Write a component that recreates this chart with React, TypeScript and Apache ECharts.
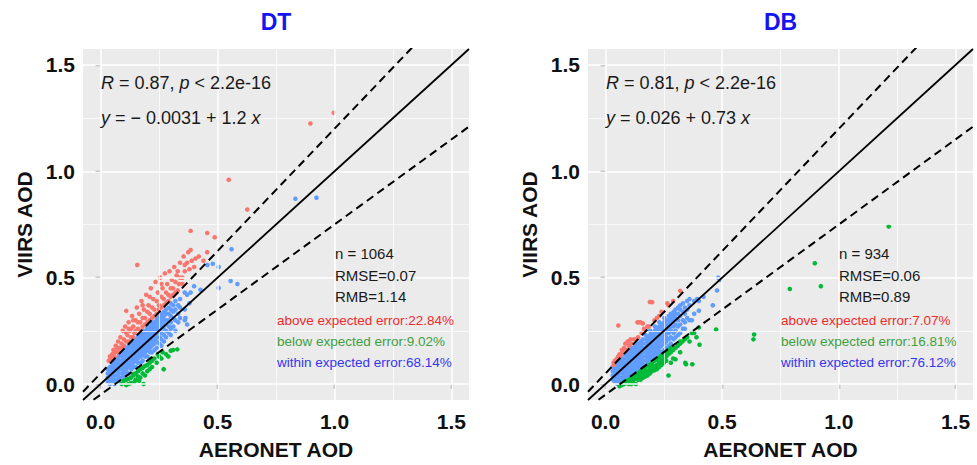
import React, { useEffect, useRef } from "react";
import * as echarts from "echarts";

// ---------- axis ----------
const AXIS_MIN = -0.075;
const AXIS_MAX = 1.575;
const majorTicks = [0, 0.5, 1.0, 1.5];
const minorTicks = [0.25, 0.75, 1.25];

// ---------- panel titles / annotations ----------
const panelTitles = ["DT", "DB"];
const statsR = ["{i|R} = 0.87, {i|p} < 2.2e-16", "{i|R} = 0.81, {i|p} < 2.2e-16"];
const statsFit = ["{i|y} = − 0.0031 + 1.2 {i|x}", "{i|y} = 0.026 + 0.73 {i|x}"];
const statsN = ["n = 1064", "n = 934"];
const statsRMSE = ["RMSE=0.07", "RMSE=0.06"];
const statsRMB = ["RMB=1.14", "RMB=0.89"];
const statsAbove = ["above expected error:22.84%", "above expected error:7.07%"];
const statsBelow = ["below expected error:9.02%", "below expected error:16.81%"];
const statsWithin = ["within expected error:68.14%", "within expected error:76.12%"];

// expected-error envelope (slope, intercept) and 1:1 line
const eeUpper = [1.15, 0.05];
const eeLower = [0.8, -0.05];
const oneToOne = [1, 0];

// ---------- DT data (AERONET, VIIRS) ----------
const dtWithinCols: [number, number[]][] = [
  [0.031, [0.01, 0.03, 0.05, 0.07]],
  [0.04, [0.0, 0.02, 0.04, 0.06, 0.08]],
  [0.052, [0.01, 0.03, 0.05, 0.07, 0.09, 0.1]],
  [0.06, [0.0, 0.02, 0.04, 0.06, 0.08, 0.1, 0.11]],
  [0.071, [0.02, 0.04, 0.06, 0.08, 0.1, 0.12]],
  [0.08, [0.01, 0.03, 0.05, 0.07, 0.09, 0.11, 0.13, 0.14]],
  [0.092, [0.03, 0.05, 0.07, 0.09, 0.11, 0.13, 0.15]],
  [0.1, [0.04, 0.06, 0.08, 0.1, 0.12, 0.14, 0.16]],
  [0.111, [0.05, 0.07, 0.09, 0.11, 0.13, 0.15, 0.17]],
  [0.12, [0.05, 0.08, 0.1, 0.12, 0.14, 0.16, 0.18]],
  [0.132, [0.07, 0.09, 0.11, 0.13, 0.15, 0.17, 0.19]],
  [0.14, [0.08, 0.1, 0.12, 0.14, 0.16, 0.18, 0.2]],
  [0.151, [0.08, 0.11, 0.13, 0.15, 0.17, 0.19, 0.21]],
  [0.16, [0.1, 0.12, 0.14, 0.16, 0.18, 0.2, 0.22, 0.23]],
  [0.172, [0.1, 0.13, 0.15, 0.17, 0.19, 0.21, 0.23]],
  [0.18, [0.11, 0.14, 0.16, 0.18, 0.2, 0.22, 0.24, 0.25]],
  [0.191, [0.13, 0.15, 0.17, 0.19, 0.21, 0.23, 0.25]],
  [0.2, [0.13, 0.16, 0.18, 0.2, 0.22, 0.24, 0.26, 0.27]],
  [0.212, [0.15, 0.17, 0.19, 0.21, 0.23, 0.25, 0.27]],
  [0.22, [0.15, 0.18, 0.2, 0.22, 0.24, 0.26, 0.28, 0.29]],
  [0.231, [0.16, 0.19, 0.21, 0.23, 0.25, 0.27, 0.29]],
  [0.24, [0.17, 0.2, 0.22, 0.24, 0.26, 0.28, 0.3, 0.31]],
  [0.252, [0.19, 0.22, 0.25, 0.27, 0.29, 0.31, 0.33]],
  [0.26, [0.18, 0.21, 0.24, 0.27, 0.29, 0.31, 0.33]],
  [0.271, [0.2, 0.23, 0.26, 0.28, 0.3, 0.32, 0.34]],
  [0.28, [0.22, 0.25, 0.28, 0.3, 0.33, 0.35]],
  [0.292, [0.24, 0.27, 0.3, 0.33, 0.36]],
  [0.3, [0.23, 0.26, 0.29, 0.32, 0.35, 0.38]],
  [0.311, [0.27, 0.31, 0.34, 0.37]],
  [0.32, [0.25, 0.3, 0.35, 0.39]],
  [0.332, [0.29, 0.33, 0.37]],
  [0.34, [0.31, 0.36, 0.4]],
  [0.36, [0.3, 0.35, 0.43]],
  [0.37, [0.28, 0.42]],
];
const dtWithinExtra: [number, number][] = [
  [0.363, 0.31], [0.385, 0.43], [0.38, 0.38], [0.4, 0.46], [0.427, 0.443],
  [0.457, 0.56], [0.48, 0.565], [0.505, 0.55], [0.505, 0.452], [0.556, 0.484],
  [0.585, 0.47], [0.56, 0.634], [0.833, 0.871], [0.923, 0.876],
];
const dtAbove: [number, number][] = [
  [0.035, 0.11], [0.04, 0.13], [0.045, 0.12], [0.05, 0.14], [0.055, 0.16], [0.06, 0.13],
  [0.065, 0.18], [0.07, 0.15], [0.075, 0.2], [0.08, 0.17], [0.085, 0.22], [0.09, 0.19],
  [0.095, 0.25], [0.1, 0.21], [0.105, 0.27], [0.11, 0.2], [0.11, 0.344], [0.115, 0.23],
  [0.12, 0.29], [0.125, 0.25], [0.13, 0.22], [0.135, 0.32], [0.14, 0.27], [0.145, 0.24],
  [0.15, 0.3], [0.155, 0.36], [0.157, 0.56], [0.16, 0.26], [0.165, 0.33], [0.17, 0.29],
  [0.175, 0.39], [0.18, 0.27], [0.185, 0.35], [0.19, 0.31], [0.195, 0.42], [0.2, 0.29],
  [0.205, 0.37], [0.21, 0.33], [0.215, 0.45], [0.22, 0.31], [0.225, 0.4], [0.23, 0.35],
  [0.235, 0.48], [0.24, 0.33], [0.245, 0.43], [0.25, 0.37], [0.255, 0.5], [0.26, 0.36],
  [0.265, 0.45], [0.27, 0.4], [0.275, 0.52], [0.28, 0.38], [0.285, 0.47], [0.29, 0.42],
  [0.295, 0.53], [0.3, 0.41], [0.305, 0.49], [0.31, 0.45], [0.315, 0.55], [0.32, 0.43],
  [0.325, 0.51], [0.33, 0.53], [0.335, 0.47], [0.34, 0.57], [0.35, 0.5], [0.355, 0.6],
  [0.36, 0.53], [0.37, 0.57], [0.375, 0.62], [0.385, 0.63], [0.385, 0.72], [0.4, 0.55],
  [0.406, 0.59], [0.42, 0.6], [0.44, 0.58], [0.456, 0.62], [0.456, 0.71], [0.488, 0.69],
  [0.548, 0.96], [0.627, 0.82], [0.897, 1.225], [0.997, 1.275],
  [0.05, 0.12], [0.06, 0.15], [0.07, 0.17], [0.08, 0.15], [0.09, 0.17], [0.1, 0.18],
  [0.11, 0.24], [0.12, 0.2], [0.13, 0.26], [0.14, 0.22], [0.15, 0.25], [0.16, 0.29],
  [0.17, 0.25], [0.18, 0.31], [0.19, 0.28], [0.2, 0.34], [0.21, 0.3], [0.22, 0.36],
  [0.23, 0.32], [0.24, 0.39], [0.25, 0.35], [0.26, 0.41], [0.27, 0.37], [0.28, 0.43],
  [0.29, 0.39], [0.3, 0.45], [0.31, 0.42], [0.32, 0.48], [0.33, 0.44], [0.34, 0.5],
  [0.35, 0.47], [0.36, 0.56], [0.38, 0.54], [0.39, 0.58], [0.12, 0.26], [0.14, 0.3],
  [0.18, 0.37], [0.21, 0.41], [0.26, 0.47],
];
const dtBelow: [number, number][] = [
  [0.1, 0.015], [0.11, 0.02], [0.12, 0.025], [0.13, 0.03], [0.14, 0.04], [0.141, 0.047],
  [0.15, 0.05], [0.16, 0.06], [0.17, 0.07], [0.18, 0.075], [0.184, 0.0], [0.19, 0.085],
  [0.2, 0.09], [0.21, 0.1], [0.214, 0.118], [0.22, 0.11], [0.23, 0.12], [0.245, 0.14],
  [0.25, 0.13], [0.265, 0.15], [0.27, 0.07], [0.28, 0.14], [0.3, 0.157], [0.31, 0.16],
  [0.328, 0.163], [0.13, 0.005], [0.15, 0.02], [0.16, 0.035], [0.17, 0.03], [0.18, 0.05],
  [0.2, 0.06], [0.22, 0.08], [0.24, 0.1], [0.12, 0.0], [0.145, 0.01], [0.19, 0.04],
  [0.21, 0.07], [0.26, 0.12], [0.29, 0.13], [0.11, -0.005], [0.09, 0.0], [0.165, 0.015],
];

// ---------- DB data (AERONET, VIIRS) ----------
const dbWithinCols: [number, number[]][] = [
  [0.031, [0.02, 0.04, 0.06, 0.08]],
  [0.04, [0.01, 0.03, 0.05, 0.07, 0.09]],
  [0.052, [0.0, 0.02, 0.04, 0.06, 0.08, 0.1]],
  [0.06, [0.01, 0.03, 0.05, 0.07, 0.09, 0.11]],
  [0.071, [0.01, 0.03, 0.05, 0.07, 0.09, 0.11, 0.12]],
  [0.08, [0.02, 0.04, 0.06, 0.08, 0.1, 0.12, 0.14]],
  [0.092, [0.03, 0.05, 0.07, 0.09, 0.11, 0.13, 0.15]],
  [0.1, [0.04, 0.06, 0.08, 0.1, 0.12, 0.14, 0.16]],
  [0.111, [0.05, 0.07, 0.09, 0.11, 0.13, 0.15, 0.17]],
  [0.12, [0.05, 0.07, 0.09, 0.11, 0.13, 0.15, 0.17]],
  [0.132, [0.06, 0.08, 0.1, 0.12, 0.14, 0.16, 0.18]],
  [0.14, [0.07, 0.09, 0.11, 0.13, 0.15, 0.17, 0.19]],
  [0.151, [0.08, 0.1, 0.12, 0.14, 0.16, 0.18, 0.2]],
  [0.16, [0.09, 0.11, 0.13, 0.15, 0.17, 0.19, 0.21]],
  [0.172, [0.09, 0.11, 0.13, 0.15, 0.17, 0.19, 0.21, 0.23]],
  [0.18, [0.1, 0.12, 0.14, 0.16, 0.18, 0.2, 0.22]],
  [0.191, [0.11, 0.13, 0.15, 0.17, 0.19, 0.21, 0.23, 0.25]],
  [0.2, [0.12, 0.14, 0.16, 0.18, 0.2, 0.22, 0.24]],
  [0.212, [0.13, 0.15, 0.17, 0.19, 0.21, 0.23, 0.25, 0.27]],
  [0.22, [0.14, 0.16, 0.18, 0.2, 0.22, 0.24, 0.26]],
  [0.231, [0.15, 0.17, 0.19, 0.21, 0.23, 0.25, 0.27, 0.29]],
  [0.24, [0.15, 0.18, 0.2, 0.22, 0.24, 0.26, 0.28]],
  [0.252, [0.16, 0.19, 0.21, 0.23, 0.25, 0.27, 0.29, 0.31]],
  [0.26, [0.17, 0.2, 0.22, 0.24, 0.26, 0.28, 0.3]],
  [0.271, [0.18, 0.21, 0.24, 0.26, 0.28, 0.3, 0.32]],
  [0.28, [0.19, 0.22, 0.25, 0.27, 0.29, 0.31, 0.33]],
  [0.292, [0.21, 0.24, 0.27, 0.3, 0.32, 0.34]],
  [0.3, [0.22, 0.25, 0.28, 0.31, 0.33, 0.35]],
  [0.311, [0.23, 0.27, 0.3, 0.33, 0.36]],
  [0.32, [0.24, 0.28, 0.32, 0.35, 0.37]],
  [0.332, [0.26, 0.3, 0.34, 0.38]],
  [0.34, [0.29, 0.33, 0.36]],
  [0.35, [0.31, 0.35, 0.39]],
  [0.36, [0.3, 0.37, 0.4]],
  [0.38, [0.33, 0.39]],
];
const dbWithinExtra: [number, number][] = [
  [0.393, 0.4], [0.4, 0.39], [0.4, 0.345], [0.46, 0.37], [0.478, 0.44],
  [0.483, 0.5], [0.49, 0.49], [0.42, 0.41], [0.37, 0.3], [0.34, 0.26],
];
const dbAbove: [number, number][] = [
  [0.035, 0.09], [0.035, 0.1], [0.04, 0.11], [0.045, 0.11], [0.05, 0.12], [0.055, 0.13],
  [0.055, 0.275], [0.06, 0.14], [0.065, 0.135], [0.07, 0.16], [0.075, 0.15], [0.08, 0.17],
  [0.085, 0.19], [0.09, 0.16], [0.095, 0.2], [0.1, 0.18], [0.107, 0.21], [0.11, 0.19],
  [0.12, 0.21], [0.13, 0.21], [0.137, 0.29], [0.14, 0.22], [0.145, 0.29], [0.15, 0.29],
  [0.155, 0.24], [0.16, 0.285], [0.165, 0.26], [0.18, 0.27], [0.185, 0.27], [0.19, 0.386],
  [0.2, 0.385], [0.21, 0.3], [0.22, 0.31], [0.23, 0.32], [0.24, 0.34], [0.265, 0.38],
  [0.27, 0.37], [0.29, 0.39], [0.32, 0.438],
];
const dbBelow: [number, number][] = [
  [0.06, -0.01], [0.07, -0.005], [0.07, 0.0], [0.08, 0.0], [0.08, 0.01], [0.09, 0.005],
  [0.09, 0.015], [0.1, 0.01], [0.1, 0.02], [0.11, 0.015], [0.11, 0.03], [0.12, 0.02],
  [0.12, 0.035], [0.13, 0.025], [0.13, 0.045], [0.14, 0.035], [0.14, 0.05], [0.15, 0.04],
  [0.15, 0.06], [0.16, 0.05], [0.16, 0.07], [0.17, 0.055], [0.17, 0.075], [0.18, 0.06],
  [0.18, 0.085], [0.19, 0.07], [0.19, 0.09], [0.2, 0.08], [0.2, 0.1], [0.21, 0.085],
  [0.21, 0.11], [0.22, 0.09], [0.22, 0.115], [0.23, 0.1], [0.23, 0.125], [0.24, 0.11],
  [0.24, 0.135], [0.25, 0.12], [0.25, 0.14], [0.26, 0.13], [0.26, 0.15], [0.27, 0.04],
  [0.27, 0.14], [0.27, 0.16], [0.28, 0.15], [0.28, 0.17], [0.29, 0.16], [0.3, 0.116],
  [0.3, 0.17], [0.31, 0.18], [0.32, 0.2], [0.32, 0.19], [0.33, 0.2], [0.34, 0.21],
  [0.342, 0.1], [0.345, 0.093], [0.35, 0.22], [0.37, 0.24], [0.372, 0.093], [0.4, 0.266],
  [0.403, 0.185], [0.474, 0.256], [0.634, 0.21], [0.637, 0.233], [0.79, 0.447],
  [0.897, 0.568], [0.923, 0.46], [1.214, 0.741],
  [0.1, 0.0], [0.12, 0.005], [0.14, 0.02], [0.16, 0.03], [0.18, 0.04], [0.2, 0.06],
  [0.22, 0.07], [0.24, 0.09], [0.26, 0.11], [0.15, 0.02], [0.17, 0.035], [0.19, 0.05],
  [0.21, 0.065], [0.23, 0.08], [0.25, 0.1], [0.13, 0.0], [0.11, 0.0], [0.286, 0.172],
  [0.32, 0.15], [0.29, 0.12], [0.36, 0.2], [0.38, 0.24], [0.39, 0.22], [0.28, 0.1],
];

const FONT = "'Liberation Sans', Arial, sans-serif";
const COL_ABOVE = "#F8766D";
const COL_BELOW = "#00BA38";
const COL_WITHIN = "#619CFF";

function flattenCols(cols: [number, number[]][]): [number, number][] {
  const out: [number, number][] = [];
  cols.forEach(([x, ys]) => ys.forEach((y) => out.push([x, y])));
  return out;
}

const panels = [
  { left: 83, width: 386, within: [...flattenCols(dtWithinCols), ...dtWithinExtra], above: dtAbove, below: dtBelow },
  { left: 588, width: 385, within: [...flattenCols(dbWithinCols), ...dbWithinExtra], above: dbAbove, below: dbBelow },
];
const TOP = 49;
const HEIGHT = 355;

function lineData(coef: number[]) {
  return [
    [AXIS_MIN, coef[0] * AXIS_MIN + coef[1]],
    [AXIS_MAX, coef[0] * AXIS_MAX + coef[1]],
  ];
}

export default function App() {
  const ref = useRef<HTMLDivElement>(null);
  useEffect(() => {
    if (!ref.current) return;
    const chart = echarts.init(ref.current, null, { renderer: "svg" });

    const grids: any[] = [];
    const xAxes: any[] = [];
    const yAxes: any[] = [];
    const series: any[] = [];
    const graphics: any[] = [];

    panels.forEach((p, i) => {
      grids.push({
        left: p.left, top: TOP, width: p.width, height: HEIGHT,
        show: true, backgroundColor: "#EBEBEB", borderWidth: 0, containLabel: false,
      });
      const common = {
        type: "value", gridIndex: i, min: AXIS_MIN, max: AXIS_MAX,
        axisLine: { show: false },
        splitLine: { show: false },
        axisTick: { show: true, customValues: majorTicks, length: 5, lineStyle: { color: "#333", width: 1.2 } },
        nameTextStyle: { fontFamily: FONT, fontWeight: "bold", fontSize: 21, color: "#111" },
        nameLocation: "middle",
      };
      xAxes.push({
        ...common, position: "bottom", name: "AERONET AOD", nameGap: 39,
        axisLabel: {
          customValues: majorTicks, formatter: (v: number) => v.toFixed(1), margin: 11,
          fontFamily: FONT, fontWeight: "bold", fontSize: 21, color: "#111",
        },
      });
      yAxes.push({
        ...common, position: "left", name: "VIIRS AOD", nameGap: 48, nameRotate: 90,
        axisLabel: {
          customValues: majorTicks, formatter: (v: number) => v.toFixed(1), margin: 8,
          fontFamily: FONT, fontWeight: "bold", fontSize: 21, color: "#111",
        },
      });

      const gl = (v: number, w: number, axis: "xAxis" | "yAxis") => ({
        [axis]: v, lineStyle: { color: "#FFFFFF", width: w, type: "solid" },
      });
      series.push({
        type: "scatter", xAxisIndex: i, yAxisIndex: i, data: [], z: 1, silent: true,
        markLine: {
          silent: true, symbol: ["none", "none"], label: { show: false }, animation: false,
          data: [
            ...minorTicks.map((v) => gl(v, 0.7, "xAxis")),
            ...minorTicks.map((v) => gl(v, 0.7, "yAxis")),
            ...majorTicks.map((v) => gl(v, 1.5, "xAxis")),
            ...majorTicks.map((v) => gl(v, 1.5, "yAxis")),
          ],
        },
      });
      const sc = (data: any, color: string) => ({
        type: "scatter", xAxisIndex: i, yAxisIndex: i, data, symbolSize: 4.6, z: 3, silent: true,
        itemStyle: { color, opacity: 1 },
      });
      series.push(sc(p.within, COL_WITHIN));
      series.push(sc(p.above, COL_ABOVE));
      series.push(sc(p.below, COL_BELOW));
      const ln = (coef: number[], dashed: boolean) => ({
        type: "line", xAxisIndex: i, yAxisIndex: i, data: lineData(coef), showSymbol: false,
        symbol: "none", clip: true, z: 5, silent: true,
        lineStyle: { color: "#000", width: dashed ? 2 : 1.8, type: dashed ? [8, 5] : "solid" },
      });
      series.push(ln(oneToOne, false));
      series.push(ln(eeUpper, true));
      series.push(ln(eeLower, true));

      const cx = p.left + p.width / 2;
      graphics.push({
        type: "text", x: cx, y: 22, z: 10,
        style: { text: panelTitles[i], fill: "#1414F0", fontFamily: FONT, fontWeight: "bold", fontSize: 23, align: "center", verticalAlign: "middle" },
      });
      const eqStyle = (text: string, x: number, y: number) => ({
        type: "text", x, y, z: 10,
        style: {
          text, fill: "#1a1a1a", fontFamily: FONT, fontSize: 18, verticalAlign: "middle", align: "left",
          rich: { i: { fontStyle: "italic", fontFamily: FONT, fontSize: 18, fill: "#1a1a1a" } },
        },
      });
      graphics.push(eqStyle(statsR[i], p.left + 18, 83));
      graphics.push(eqStyle(statsFit[i], p.left + 18, 118));
      const small = (text: string, x: number, y: number, color: string, size: number) => ({
        type: "text", x, y, z: 10,
        style: { text, fill: color, fontFamily: FONT, fontSize: size, verticalAlign: "middle", align: "left" },
      });
      const sx = p.left + (i === 0 ? 252 : 251);
      graphics.push(small(statsN[i], sx, 253, "#1a1a1a", 15));
      graphics.push(small(statsRMSE[i], sx, 275, "#1a1a1a", 15));
      graphics.push(small(statsRMB[i], sx, 296, "#1a1a1a", 15));
      const cxl = p.left + (i === 0 ? 194 : 193);
      graphics.push(small(statsAbove[i], cxl, 320, "#EE2B2B", 13.5));
      graphics.push(small(statsBelow[i], cxl, 341, "#3F9F3F", 13.5));
      graphics.push(small(statsWithin[i], cxl, 362, "#3535EE", 13.5));
    });

    chart.setOption({
      animation: false,
      backgroundColor: "#FFFFFF",
      grid: grids,
      xAxis: xAxes,
      yAxis: yAxes,
      series,
      graphic: graphics,
    });
    return () => chart.dispose();
  }, []);

  return (
    <div
      ref={ref}
      style={{ position: "fixed", left: 0, top: 0, width: 977, height: 465, background: "#fff" }}
    />
  );
}
